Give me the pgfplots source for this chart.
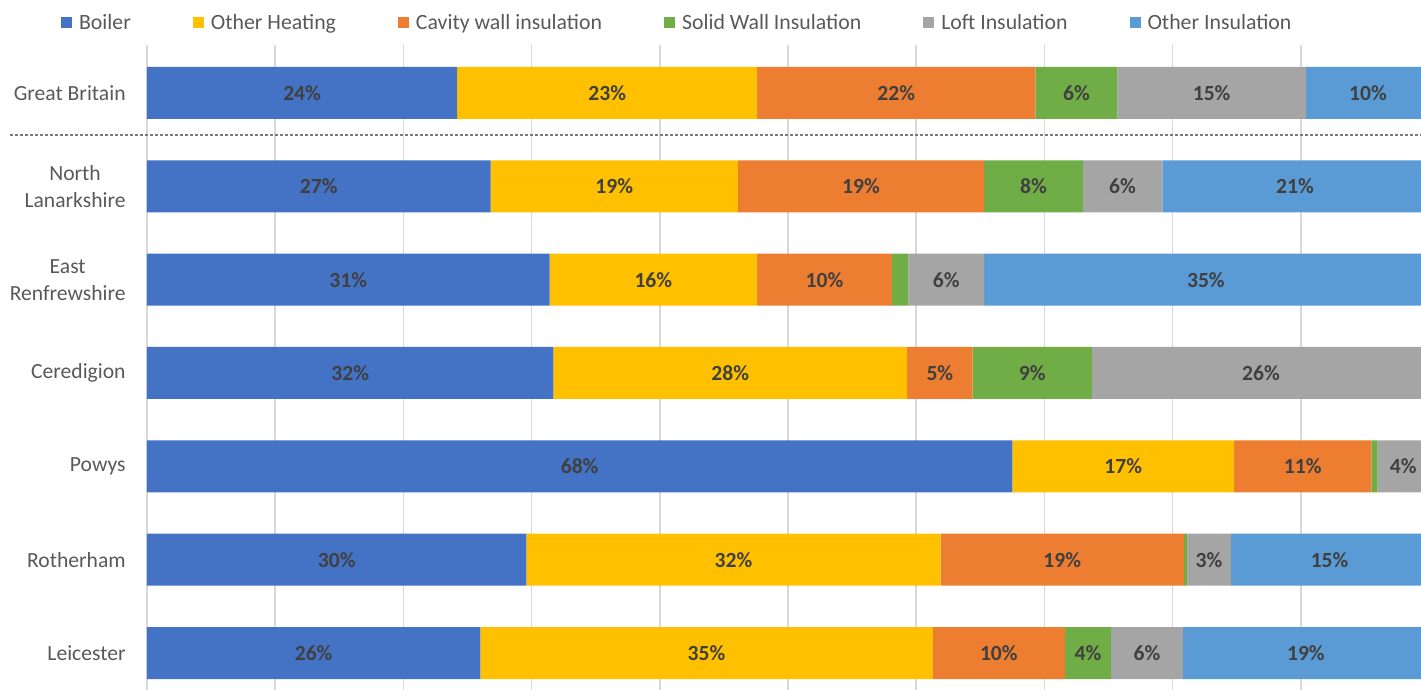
\documentclass[border=0pt]{standalone}
\usepackage{fontspec}
\setmainfont{Carlito}
\usepackage{pgfplots}
\pgfplotsset{compat=1.18}
\definecolor{cBoiler}{HTML}{4472C4}
\definecolor{cOtherH}{HTML}{FFC000}
\definecolor{cCavity}{HTML}{ED7D31}
\definecolor{cSolid}{HTML}{70AD47}
\definecolor{cLoft}{HTML}{A5A5A5}
\definecolor{cOtherI}{HTML}{5B9BD5}
\definecolor{txt}{HTML}{595959}
\definecolor{lbl}{HTML}{404040}
\definecolor{gridc}{HTML}{D9D9D9}
\begin{document}
\begin{tikzpicture}
\begin{axis}[
  at={(0,0)}, anchor=south west,
  scale only axis, width=644.18pt, height=322.5pt,
  xbar stacked, bar width=26pt,
  xmin=0, xmax=100.5, ymin=-0.396, ymax=6.514,
  xtick={0,10,...,100}, xticklabels={},
  xmajorgrids, major grid style={gridc, line width=0.75pt},
  ytick={0,...,6},
  yticklabels={Leicester,Rotherham,Powys,Ceredigion,{East\\Renfrewshire},{North\\Lanarkshire},Great Britain},
  yticklabel style={align=center, text=txt, inner sep=0pt, xshift=-10.5pt, font=\fontsize{10.8}{13.5}\selectfont},
  tick style={draw=none},
  axis line style={draw=none},
  point meta=explicit symbolic,
  nodes near coords,
  every node near coord/.append style={anchor=center, font=\fontsize{10.8}{13.5}\selectfont\bfseries, text=lbl},
  legend columns=6,
  legend style={at={(-0.0670,1.0341)}, anchor=west, draw=none, fill=none, inner sep=0pt,
    font=\fontsize{10.9}{13.5}\selectfont, text=txt,
    /tikz/every odd column/.append style={column sep=1.5pt},
    /tikz/every even column/.append style={column sep=29pt}},
  legend cell align=left,
  legend image code/.code={\fill[#1] (0pt,-2.75pt) rectangle (5.5pt,2.75pt);},
]
\addplot[fill=cBoiler, draw=none] coordinates {(26.0,0) [26\%] (29.6,1) [30\%] (67.5,2) [68\%] (31.7,3) [32\%] (31.4,4) [31\%] (26.8,5) [27\%] (24.2,6) [24\%]};
\addplot[fill=cOtherH, draw=none] coordinates {(35.3,0) [35\%] (32.3,1) [32\%] (17.3,2) [17\%] (27.6,3) [28\%] (16.2,4) [16\%] (19.3,5) [19\%] (23.4,6) [23\%]};
\addplot[fill=cCavity, draw=none] coordinates {(10.3,0) [10\%] (19.0,1) [19\%] (10.7,2) [11\%] (5.1,3) [5\%] (10.5,4) [10\%] (19.2,5) [19\%] (21.7,6) [22\%]};
\addplot[fill=cSolid, draw=none] coordinates {(3.6,0) [4\%] (0.25,1) [{}] (0.5,2) [{}] (9.3,3) [9\%] (1.3,4) [{}] (7.7,5) [8\%] (6.4,6) [6\%]};
\addplot[fill=cLoft, draw=none] coordinates {(5.6,0) [6\%] (3.4,1) [3\%] (4.0,2) [4\%] (26.4,3) [26\%] (5.9,4) [6\%] (6.2,5) [6\%] (14.7,6) [15\%]};
\addplot[fill=cOtherI, draw=none] coordinates {(19.2,0) [19\%] (15.4,1) [15\%] (0,2) [{}] (0,3) [{}] (34.6,4) [35\%] (20.7,5) [21\%] (9.7,6) [10\%]};
\legend{Boiler,Other Heating,Cavity wall insulation,Solid Wall Insulation,Loft Insulation,Other Insulation}
\end{axis}
\draw[txt!80, dash pattern=on 1.5pt off 1pt, line width=0.6pt] (-68.5pt,277.5pt) -- (637pt,277.5pt);
\pgfresetboundingbox
\path[use as bounding box] (-73.5pt,0) rectangle (637pt,345pt);
\end{tikzpicture}
\end{document}
